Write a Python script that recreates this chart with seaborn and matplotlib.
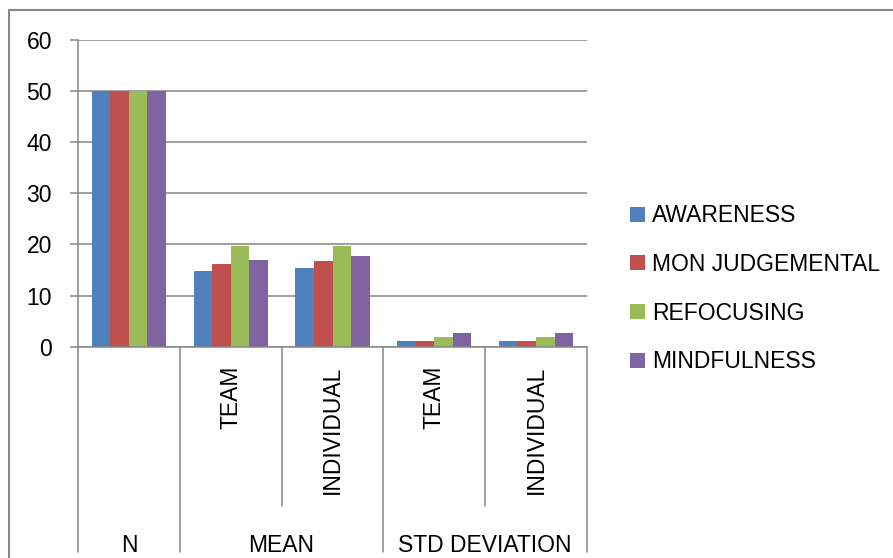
import numpy as np
import pandas as pd
import matplotlib
matplotlib.use("Agg")
import matplotlib.pyplot as plt
import seaborn as sns
from matplotlib.patches import Rectangle
from matplotlib.transforms import blended_transform_factory

# ---- data ----
slots = ["N", "MEAN|TEAM", "MEAN|INDIVIDUAL", "STD DEVIATION|TEAM", "STD DEVIATION|INDIVIDUAL"]
groups = ["N", "MEAN", "STD DEVIATION"]
subgroups = ["", "TEAM", "INDIVIDUAL", "TEAM", "INDIVIDUAL"]
series = ["AWARENESS", "MON JUDGEMENTAL", "REFOCUSING", "MINDFULNESS"]
awareness = [50, 14.8, 15.4, 1.1, 1.1]
mon_judgemental = [50, 16.2, 16.8, 1.1, 1.1]
refocusing = [50, 19.7, 19.7, 1.9, 1.85]
mindfulness = [50, 16.9, 17.8, 2.7, 2.75]
yticks = [0, 10, 20, 30, 40, 50, 60]
colors = ["#4F81BD", "#C0504D", "#9BBB59", "#8064A2"]

values = [awareness, mon_judgemental, refocusing, mindfulness]
df = pd.DataFrame(
    [(slot, s, v[i]) for s, v in zip(series, values) for i, slot in enumerate(slots)],
    columns=["slot", "series", "value"],
)

sns.set_theme(style="white")
plt.rcParams["font.family"] = ["Liberation Sans", "DejaVu Sans"]
FS = 16.5
GRAY = "#868686"

W, H = 893, 558
fig = plt.figure(figsize=(W / 100, H / 100), dpi=100)
fig.patch.set_facecolor("white")

y0_px, y60_px = 346.7, 40.0
x_left, x_right = 78.0, 587.0
ax = fig.add_axes([x_left / W, 1 - y0_px / H, (x_right - x_left) / W, (y0_px - y60_px) / H])
ax_h = y0_px - y60_px

sns.barplot(data=df, x="slot", y="value", hue="series", order=slots, hue_order=series,
            palette=colors, width=0.73, gap=0, saturation=1, legend=False,
            linewidth=0, ax=ax)

ax.set_xlim(-0.5, 4.5)
ax.set_ylim(0, 60)
ax.set_yticks(yticks)
ax.set_yticklabels([str(t) for t in yticks], fontsize=FS, color="black")
ax.set_xlabel("")
ax.set_ylabel("")
ax.yaxis.grid(True, color=GRAY, linewidth=1.1)
ax.xaxis.grid(False)
ax.set_axisbelow(True)
ax.tick_params(axis="y", direction="out", length=5.8, width=1.1, color=GRAY, pad=13, left=True)
ax.tick_params(axis="x", length=0, labelbottom=False)
for side in ["top", "right"]:
    ax.spines[side].set_visible(False)
for side in ["left", "bottom"]:
    ax.spines[side].set_color(GRAY)
    ax.spines[side].set_linewidth(1.1)
ax.set_facecolor("white")

# multi-level category axis
trans = blended_transform_factory(ax.transData, ax.transAxes)
y_outer = (y0_px - 552) / ax_h
y_inner = (y0_px - 506) / ax_h
for x in [-0.5, 0.5, 2.5, 4.5]:
    ax.plot([x, x], [0, y_outer], transform=trans, clip_on=False, color=GRAY, lw=1.1)
for x in [1.5, 3.5]:
    ax.plot([x, x], [0, y_inner], transform=trans, clip_on=False, color=GRAY, lw=1.1)

y_sub = (y0_px - 366) / ax_h
for i, lab in enumerate(subgroups):
    if lab:
        ax.text(i, y_sub, lab, transform=trans, rotation=90, ha="center", va="top",
                fontsize=FS, color="black")

group_x = [0, 1.5, 3.5]
for gx, lab in zip(group_x, groups):
    ax.text(gx, (y0_px - 551.5) / ax_h, lab, transform=trans, ha="center", va="baseline",
            fontsize=FS, color="black")

# legend (manual, Excel style)
leg_y = [214.5, 263, 311.5, 360]
for lab, c, yc in zip(series, colors, leg_y):
    fig.add_artist(Rectangle((630 / W, 1 - (yc + 7.5) / H), 15 / W, 15 / H,
                             transform=fig.transFigure, facecolor=c, edgecolor="none"))
    fig.text(652 / W, 1 - (yc + 8) / H, lab, ha="left", va="baseline", fontsize=FS,
             color="black")

# chart frame (cropped at right and bottom)
fig.add_artist(Rectangle((9 / W, -0.2), 2.0, 1 - 10 / H + 0.2, transform=fig.transFigure,
                         fill=False, edgecolor=GRAY, linewidth=1.5, clip_on=False))

fig.savefig("out.png", dpi=100)
